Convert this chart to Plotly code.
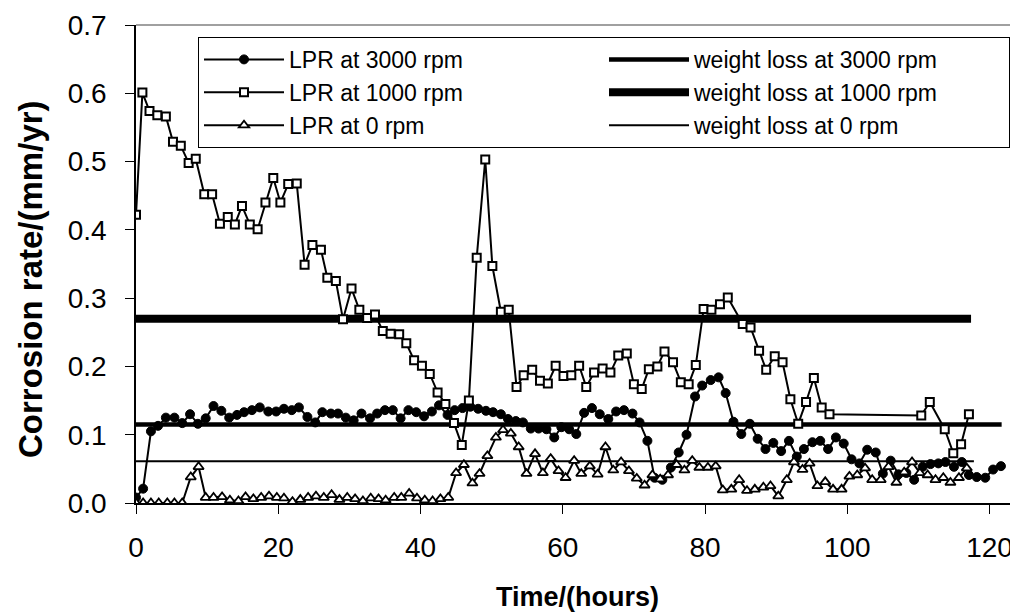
import plotly.graph_objects as go

# ---------------- data ----------------
t_3000 = [0, 1.0, 2.1, 3.1, 4.2, 5.4, 6.5, 7.6, 8.7, 9.8, 10.9, 12.0, 13.1, 14.2, 15.2, 16.3, 17.4, 18.6,
          19.7, 20.8, 21.9, 22.9, 24.1, 25.2, 26.2, 27.4, 28.4, 29.5, 30.6, 31.7, 32.9, 33.9, 35.0, 36.1,
          37.2, 38.3, 39.4, 40.5, 41.6, 42.6, 43.8, 44.8, 45.9, 47.0, 48.1, 49.2, 50.2, 51.3, 52.3, 53.4,
          54.4, 55.5, 56.6, 57.7, 58.8, 59.8, 60.9, 61.9, 63.0, 64.1, 65.2, 66.4, 67.5, 68.6, 69.8, 70.8,
          71.9, 72.9, 74.0, 75.2, 76.3, 77.4, 78.6, 79.6, 80.8, 81.9, 82.9, 84.0, 85.1, 86.3, 87.4, 88.5,
          89.6, 90.7, 91.8, 92.9, 93.9, 95.1, 96.2, 97.3, 98.4, 99.5, 100.6, 101.7, 102.8, 104.0, 105.0,
          106.1, 107.2, 108.3, 109.4, 110.6, 111.7, 112.8, 113.8, 115.0, 116.1, 117.1, 118.2, 119.4,
          120.5, 121.6]
lpr_3000 = [0.008, 0.021, 0.105, 0.113, 0.125, 0.125, 0.117, 0.130, 0.116, 0.124, 0.142, 0.135, 0.125,
            0.129, 0.133, 0.136, 0.140, 0.134, 0.134, 0.138, 0.136, 0.140, 0.126, 0.118, 0.133, 0.131,
            0.131, 0.125, 0.121, 0.131, 0.124, 0.131, 0.136, 0.136, 0.124, 0.136, 0.133, 0.127, 0.134,
            0.143, 0.129, 0.136, 0.139, 0.141, 0.138, 0.135, 0.133, 0.130, 0.123, 0.120, 0.118, 0.109,
            0.109, 0.108, 0.096, 0.111, 0.108, 0.101, 0.132, 0.139, 0.130, 0.123, 0.134, 0.136, 0.131,
            0.118, 0.091, 0.037, 0.034, 0.052, 0.074, 0.100, 0.156, 0.172, 0.180, 0.184, 0.161, 0.119,
            0.101, 0.116, 0.094, 0.079, 0.088, 0.076, 0.091, 0.068, 0.079, 0.089, 0.091, 0.079, 0.096,
            0.087, 0.064, 0.058, 0.078, 0.074, 0.043, 0.062, 0.042, 0.044, 0.034, 0.053, 0.057, 0.058,
            0.060, 0.053, 0.060, 0.041, 0.038, 0.037, 0.049, 0.054]

t_1000 = [0, 0.9, 1.9, 3.0, 4.2, 5.2, 6.3, 7.4, 8.4, 9.6, 10.7, 11.8, 12.9, 13.9, 14.9, 16.0, 17.1, 18.2,
          19.3, 20.3, 21.4, 22.6, 23.7, 24.8, 26.0, 26.9, 28.1, 29.1, 30.3, 31.4, 32.5, 33.6, 34.7, 35.8,
          37.0, 38.0, 39.1, 40.2, 41.3, 42.4, 43.5, 44.7, 45.8, 46.8, 47.9, 49.1, 50.1, 51.3, 52.4, 53.5,
          54.5, 55.7, 56.8, 57.9, 59.0, 60.1, 61.2, 62.3, 63.3, 64.4, 65.6, 66.7, 67.8, 69.0, 70.0, 71.1,
          72.1, 73.3, 74.3, 75.5, 76.6, 77.7, 78.7, 79.8, 80.9, 82.1, 83.2, 85.3, 86.4, 87.6, 88.6, 89.8,
          90.9, 92.0, 93.1, 94.2, 95.3, 96.4, 97.5, 110.4, 111.6, 113.7, 114.9, 116.0, 117.1]
lpr_1000 = [0.422, 0.601, 0.574, 0.568, 0.566, 0.529, 0.523, 0.498, 0.504, 0.452, 0.452, 0.409, 0.419,
            0.408, 0.435, 0.408, 0.401, 0.440, 0.476, 0.440, 0.467, 0.468, 0.349, 0.378, 0.371, 0.330,
            0.325, 0.269, 0.314, 0.283, 0.271, 0.276, 0.252, 0.248, 0.247, 0.234, 0.209, 0.201, 0.189,
            0.162, 0.145, 0.117, 0.085, 0.150, 0.359, 0.503, 0.347, 0.280, 0.283, 0.170, 0.187, 0.195,
            0.179, 0.175, 0.201, 0.186, 0.187, 0.201, 0.170, 0.191, 0.197, 0.191, 0.216, 0.219, 0.174,
            0.167, 0.196, 0.200, 0.222, 0.206, 0.177, 0.174, 0.202, 0.284, 0.283, 0.291, 0.301, 0.262,
            0.257, 0.223, 0.195, 0.215, 0.206, 0.152, 0.116, 0.148, 0.183, 0.140, 0.130, 0.128, 0.148,
            0.108, 0.073, 0.086, 0.130]

t_0 = [0, 1.0, 2.1, 3.2, 4.4, 5.4, 6.5, 7.7, 8.8, 9.8, 10.9, 12.1, 13.2, 14.4, 15.4, 16.5, 17.6, 18.7,
       19.8, 20.8, 22.0, 23.1, 24.2, 25.3, 26.4, 27.5, 28.6, 29.7, 30.8, 31.9, 33.0, 34.1, 35.1, 36.3,
       37.3, 38.4, 39.5, 40.6, 41.7, 42.8, 43.9, 45.0, 46.1, 47.3, 48.3, 49.4, 50.6, 51.6, 52.7, 53.8,
       54.9, 56.1, 57.2, 58.3, 59.4, 60.4, 61.6, 62.6, 63.8, 64.9, 66.0, 67.1, 68.2, 69.3, 70.4, 71.5,
       72.6, 73.7, 74.8, 76.0, 77.1, 78.2, 79.2, 80.4, 81.5, 82.5, 83.7, 84.8, 85.9, 87.0, 88.2, 89.2,
       90.3, 91.5, 92.5, 93.7, 94.7, 95.8, 96.9, 98.0, 99.2, 100.3, 101.4, 102.5, 103.5, 104.7, 105.8,
       106.9, 108.0, 109.1, 110.2, 111.3, 112.4, 113.5, 114.5, 115.7, 116.8]
lpr_0 = [0.000, 0.000, 0.000, 0.000, 0.000, 0.000, 0.000, 0.038, 0.053, 0.008, 0.008, 0.009, 0.004,
         0.003, 0.009, 0.006, 0.008, 0.010, 0.008, 0.007, 0.002, 0.005, 0.008, 0.010, 0.008, 0.012,
         0.005, 0.008, 0.006, 0.003, 0.007, 0.006, 0.004, 0.008, 0.008, 0.014, 0.007, 0.004, 0.003,
         0.006, 0.008, 0.044, 0.056, 0.029, 0.043, 0.069, 0.096, 0.107, 0.102, 0.082, 0.043, 0.072,
         0.044, 0.065, 0.047, 0.037, 0.062, 0.043, 0.054, 0.042, 0.082, 0.048, 0.060, 0.047, 0.036,
         0.026, 0.041, 0.035, 0.041, 0.056, 0.048, 0.062, 0.052, 0.052, 0.054, 0.019, 0.020, 0.034,
         0.018, 0.020, 0.023, 0.025, 0.010, 0.034, 0.060, 0.049, 0.058, 0.025, 0.031, 0.020, 0.020,
         0.039, 0.041, 0.051, 0.034, 0.034, 0.053, 0.030, 0.045, 0.060, 0.044, 0.041, 0.034, 0.037,
         0.030, 0.037, 0.051]

# weight-loss averages (horizontal lines over the test period)
wl_3000_t = [0, 121.7]
wl_3000 = [0.115, 0.115]
wl_1000_t = [0, 117.4]
wl_1000 = [0.270, 0.270]
wl_0_t = [0, 117.8]
wl_0 = [0.061, 0.061]

x_ticks = [0, 20, 40, 60, 80, 100, 120]
y_ticks = [0.0, 0.1, 0.2, 0.3, 0.4, 0.5, 0.6, 0.7]
y_tick_labels = ["0.0", "0.1", "0.2", "0.3", "0.4", "0.5", "0.6", "0.7"]
x_title = "Time/(hours)"
y_title = "Corrosion rate/(mm/yr)"

FONT = "Liberation Sans, Arial, sans-serif"

fig = go.Figure()

# weight-loss lines (drawn first, underneath)
fig.add_trace(go.Scatter(x=wl_1000_t, y=wl_1000, mode="lines", name="weight loss at 1000 rpm",
                         line=dict(color="black", width=8), legendrank=4))
fig.add_trace(go.Scatter(x=wl_3000_t, y=wl_3000, mode="lines", name="weight loss at 3000 rpm",
                         line=dict(color="black", width=4.5), legendrank=2))
fig.add_trace(go.Scatter(x=wl_0_t, y=wl_0, mode="lines", name="weight loss at 0 rpm",
                         line=dict(color="black", width=2), legendrank=6))

# LPR series
fig.add_trace(go.Scatter(x=t_3000, y=lpr_3000, mode="lines+markers", name="LPR at 3000 rpm",
                         line=dict(color="black", width=2),
                         marker=dict(symbol="circle", size=9, color="black",
                                     line=dict(color="black", width=1)),
                         legendrank=1))
fig.add_trace(go.Scatter(x=t_0, y=lpr_0, mode="lines+markers", name="LPR at 0 rpm",
                         line=dict(color="black", width=2),
                         marker=dict(symbol="triangle-up", size=9, color="white",
                                     line=dict(color="black", width=1.8)),
                         legendrank=5))
fig.add_trace(go.Scatter(x=t_1000, y=lpr_1000, mode="lines+markers", name="LPR at 1000 rpm",
                         line=dict(color="black", width=2),
                         marker=dict(symbol="square", size=8, color="white",
                                     line=dict(color="black", width=2)),
                         legendrank=3))

# top border of plot area (grey)
fig.add_shape(type="line", xref="paper", yref="paper", x0=0, x1=1, y0=1, y1=1,
              line=dict(color="#808080", width=1.5))

# axis titles
fig.add_annotation(text="<b>%s</b>" % x_title, xref="paper", yref="paper", x=0.5, y=0,
                   xanchor="center", yanchor="middle", yshift=-94, showarrow=False,
                   font=dict(family=FONT, size=27, color="black"))
fig.add_annotation(text="<b>%s</b>" % y_title, xref="paper", yref="paper", x=0, y=0.5,
                   xanchor="center", yanchor="middle", xshift=-106, yshift=-15, textangle=-90,
                   showarrow=False, font=dict(family=FONT, size=33, color="black"))

# The page body has an 8px default margin; the figure is sized so the plot
# lands at the same screen position as the reference.
fig.update_layout(
    width=1010, height=607,
    margin=dict(l=128, r=0, t=17, b=112, autoexpand=False),
    paper_bgcolor="white", plot_bgcolor="white",
    font=dict(family=FONT, color="black"),
    showlegend=True,
    legend=dict(
        orientation="h",
        x=0.0703, xanchor="left",
        y=0.975, yanchor="top",
        entrywidth=310,
        itemwidth=80,
        bgcolor="white",
        bordercolor="black", borderwidth=1,
        font=dict(family=FONT, size=23, color="black"),
        traceorder="normal",
    ),
    xaxis=dict(
        range=[0, 124],
        automargin=False,
        tickmode="array", tickvals=x_ticks,
        ticks="outside", ticklen=9, tickcolor="black", tickwidth=1,
        ticklabelstandoff=10,
        showline=True, linecolor="black", linewidth=1.5,
        showgrid=False, zeroline=False,
        tickfont=dict(family=FONT, size=28, color="black"),
    ),
    yaxis=dict(
        range=[0, 0.7],
        automargin=False,
        tickmode="array", tickvals=y_ticks, ticktext=y_tick_labels,
        ticks="outside", ticklen=9, tickcolor="black", tickwidth=1,
        ticklabelstandoff=13,
        showline=True, linecolor="black", linewidth=1.5,
        showgrid=False, zeroline=False,
        tickfont=dict(family=FONT, size=28, color="black"),
    ),
)

fig.write_html("out.html")
